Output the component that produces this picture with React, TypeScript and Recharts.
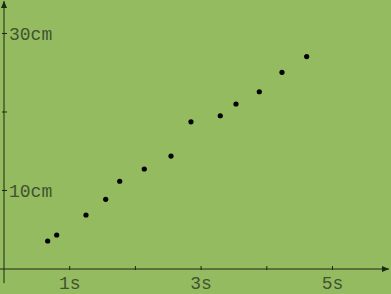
import React from 'react';
import { ScatterChart, Scatter, XAxis, YAxis, ReferenceLine } from 'recharts';

const times = [0.665, 0.802, 1.248, 1.548, 1.761, 2.135, 2.542, 2.846, 3.292, 3.531, 3.886, 4.231, 4.607];
const distances = [3.57, 4.33, 6.88, 8.88, 11.18, 12.74, 14.39, 18.75, 19.52, 21.02, 22.58, 25.06, 27.06];
const xTicks = [1, 2, 3, 4, 5];
const xLabels: Record<number, string> = { 1: '1s', 3: '3s', 5: '5s' };
const yTicks = [10, 20, 30];
const yLabels: Record<number, string> = { 10: '10cm', 30: '30cm' };

const data = times.map((t, i) => ({ t, d: distances[i] }));

const AXIS = '#1c2812';
const TEXT = '#415232';
const FONT = '"Liberation Mono", "DejaVu Sans Mono", monospace';

const XTick = (props: any) => {
  const { x, y, payload } = props;
  const label = xLabels[payload.value];
  return (
    <g>
      <line x1={x} x2={x} y1={y - 3} y2={y + 1} stroke={AXIS} strokeWidth={1} />
      {label && (
        <text x={x} y={y + 20} textAnchor="middle" fill={TEXT} fontSize={18} fontFamily={FONT}>
          {label}
        </text>
      )}
    </g>
  );
};

const YTick = (props: any) => {
  const { x, y, payload } = props;
  const label = yLabels[payload.value];
  return (
    <g>
      <line x1={x - 2} x2={x + 3} y1={y} y2={y} stroke={AXIS} strokeWidth={1} />
      {label && (
        <text x={x + 5} y={y} dy="0.36em" textAnchor="start" fill={TEXT} fontSize={18} fontFamily={FONT}>
          {label}
        </text>
      )}
    </g>
  );
};

export default function App() {
  return (
    <div style={{ position: 'absolute', left: 0, top: 0, width: 391, height: 294, background: '#94bb5f' }}>
      <ScatterChart width={391} height={294} margin={{ top: 1, right: 2, left: 3, bottom: 0 }}>
        <defs>
          <marker id="arrowHead" markerUnits="userSpaceOnUse" markerWidth={8} markerHeight={7} viewBox="0 0 8 7" refX={7} refY={3.5} orient="auto-start-reverse">
            <path d="M0,0.5 L7,3.5 L0,6.5 z" fill={AXIS} />
          </marker>
        </defs>
        <XAxis
          type="number"
          dataKey="t"
          domain={[0, 5.86]}
          ticks={xTicks}
          height={25}
          tickSize={0}
          tickMargin={0}
          tickLine={false}
          axisLine={{ stroke: AXIS, strokeWidth: 1, markerEnd: 'url(#arrowHead)' }}
          tick={<XTick />}
          allowDataOverflow
        />
        <YAxis
          type="number"
          dataKey="d"
          domain={[0, 34.14]}
          ticks={yTicks}
          width={1}
          tickSize={0}
          tickMargin={0}
          tickLine={false}
          axisLine={{ stroke: AXIS, strokeWidth: 1, markerStart: 'url(#arrowHead)' }}
          tick={<YTick />}
          allowDataOverflow
        />
        <ReferenceLine segment={[{ x: 0, y: -1.8 }, { x: 0, y: 0 }]} stroke={AXIS} ifOverflow="visible" />
        <ReferenceLine segment={[{ x: -0.06, y: 0 }, { x: 0, y: 0 }]} stroke={AXIS} ifOverflow="visible" />
        <Scatter data={data} fill="#000000" isAnimationActive={false} shape={(p: any) => <circle cx={p.cx} cy={p.cy} r={2.6} fill="#000" />} />
      </ScatterChart>
    </div>
  );
}
